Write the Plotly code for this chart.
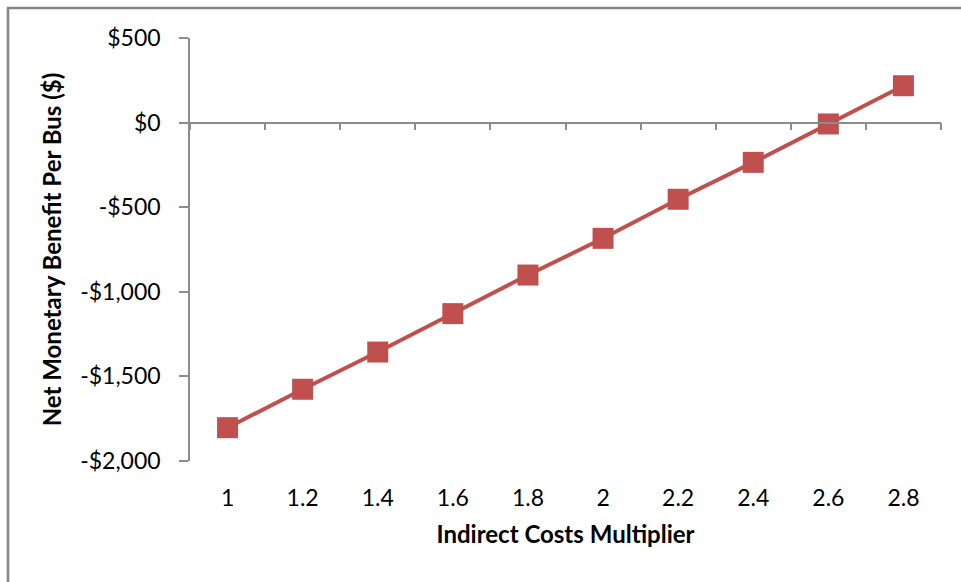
import plotly.graph_objects as go

# Indirect cost multiplier categories and net monetary benefit per bus
multipliers = ["1", "1.2", "1.4", "1.6", "1.8", "2", "2.2", "2.4", "2.6", "2.8"]
net_benefit = [-1803, -1576, -1356, -1129, -901, -684, -453, -235, -8, 218]

y_tick_values = [500, 0, -500, -1000, -1500, -2000]
y_tick_labels = ["$500", "$0", "-$500", "-$1,000", "-$1,500", "-$2,000"]

RED = "#C0504D"
AXIS_GREY = "#8C8C8C"
FONT = "Lato, 'Open Sans', sans-serif"

fig = go.Figure()

fig.add_trace(go.Scatter(
    x=multipliers,
    y=net_benefit,
    mode="lines+markers",
    line=dict(color=RED, width=4),
    marker=dict(symbol="square", size=21, color=RED),
    hoverinfo="x+y",
    showlegend=False,
))

# invisible companion trace so the crossing axis carries the same categories
fig.add_trace(go.Scatter(
    x=multipliers,
    y=net_benefit,
    xaxis="x2",
    mode="lines",
    line=dict(width=0, color="rgba(0,0,0,0)"),
    hoverinfo="skip",
    showlegend=False,
))

y_min, y_max = -2000, 500

fig.update_layout(
    width=961,
    height=582,
    margin=dict(l=190, r=20, t=38, b=121),
    paper_bgcolor="white",
    plot_bgcolor="white",
    font=dict(family=FONT, color="#000000", size=23),
    xaxis=dict(
        type="category",
        categoryorder="array",
        categoryarray=multipliers,
        range=[-0.5, len(multipliers) - 0.5],
        showline=False,
        showgrid=False,
        zeroline=False,
        ticks="",
        ticklabelstandoff=21,
        tickfont=dict(size=23, family=FONT),
        title=dict(text="<b>Indirect Costs Multiplier</b>",
                   font=dict(size=24, family=FONT), standoff=16),
        fixedrange=True,
    ),
    # category axis line drawn where the value axis crosses zero
    xaxis2=dict(
        type="category",
        categoryorder="array",
        categoryarray=multipliers,
        range=[-0.5, len(multipliers) - 0.5],
        overlaying="x",
        anchor="free",
        position=(0 - y_min) / (y_max - y_min),
        showline=True,
        linecolor=AXIS_GREY,
        linewidth=1.5,
        showgrid=False,
        zeroline=False,
        ticks="outside",
        tickson="boundaries",
        ticklen=7,
        tickwidth=1.5,
        tickcolor=AXIS_GREY,
        showticklabels=False,
        fixedrange=True,
    ),
    yaxis=dict(
        range=[y_min, y_max],
        tickvals=y_tick_values,
        ticktext=y_tick_labels,
        showline=True,
        linecolor=AXIS_GREY,
        linewidth=1.5,
        showgrid=False,
        zeroline=False,
        ticks="outside",
        ticklen=9,
        tickwidth=1.5,
        tickcolor=AXIS_GREY,
        ticklabelstandoff=14,
        tickfont=dict(size=23, family=FONT),
        title=dict(text="<b>Net Monetary Benefit Per Bus ($)</b>",
                   font=dict(size=24, family=FONT), standoff=12),
        fixedrange=True,
    ),
    shapes=[
        # outer chart frame, clipped on the right and bottom
        dict(type="rect", xref="paper", yref="paper",
             x0=(8 - 190) / 751, x1=1.2,
             y0=-0.6, y1=1 + (38 - 8) / 423,
             line=dict(color="#868686", width=2.5),
             fillcolor="rgba(0,0,0,0)", layer="below"),
    ],
)

fig.write_html("out.html")
